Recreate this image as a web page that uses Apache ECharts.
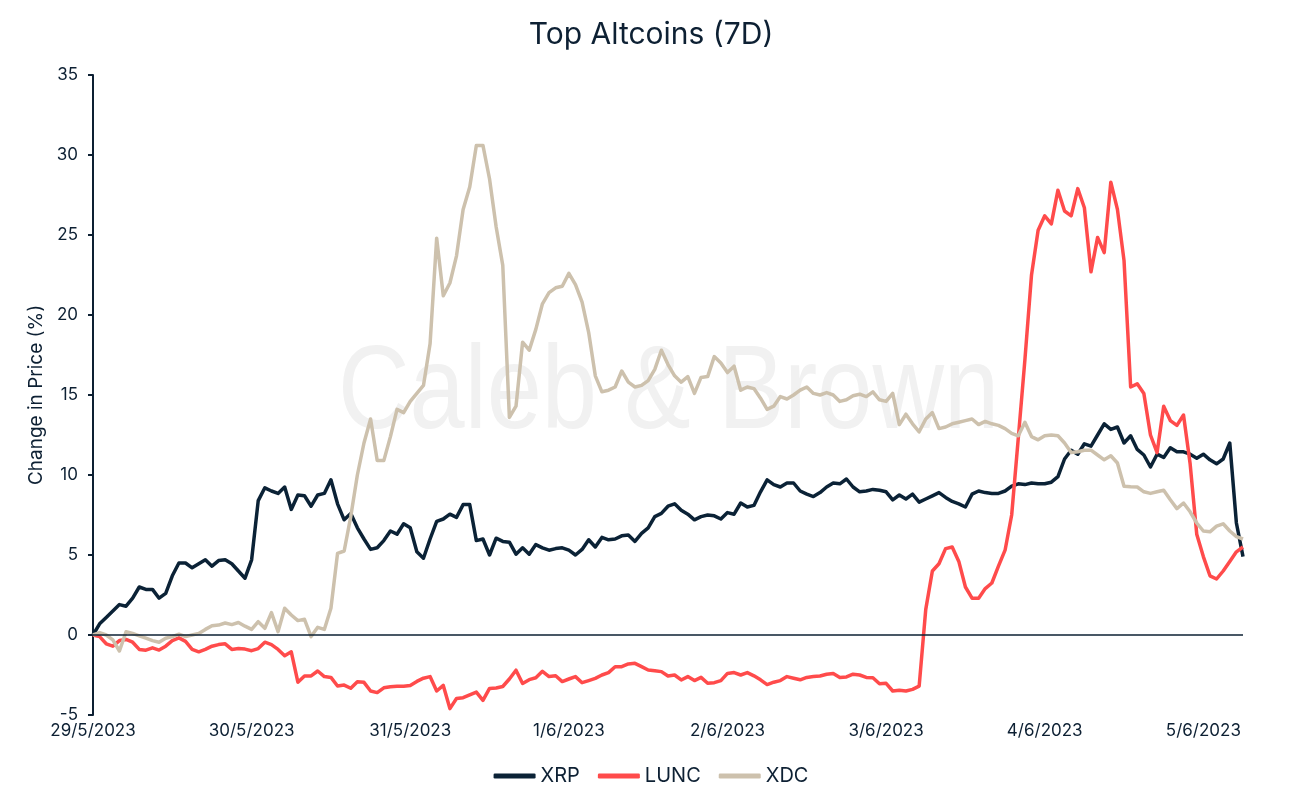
<!DOCTYPE html>
<html>
<head>
<meta charset="utf-8">
<script src="https://cdn.jsdelivr.net/npm/echarts@6/dist/echarts.min.js"></script>
<style>
  html, body { margin: 0; padding: 0; background: #ffffff; }
  #chart { width: 1302px; height: 802px; }
</style>
</head>
<body>
<div id="chart"></div>
<script>
// Day tick labels (one every 24 hourly points)
const dayLabels = ['29/5/2023', '30/5/2023', '31/5/2023', '1/6/2023', '2/6/2023', '3/6/2023', '4/6/2023', '5/6/2023'];
const yTicks = [-5, 0, 5, 10, 15, 20, 25, 30, 35];
const seriesNames = ['XRP', 'LUNC', 'XDC'];

// Hourly % change
const xrp = [
  0, 0.7, 1.1, 1.5, 1.9, 1.8, 2.3, 3.0, 2.85, 2.85, 2.3, 2.6, 3.7, 4.5, 4.5, 4.2, 4.45, 4.7, 4.3, 4.65, 4.7, 4.45, 4.0, 3.55, 4.7,
  8.4, 9.2, 9.0, 8.85, 9.25, 7.85, 8.75, 8.7, 8.05, 8.75, 8.85, 9.7, 8.2, 7.2, 7.6, 6.7, 6.0, 5.35, 5.45, 5.9, 6.5, 6.3, 6.95, 6.7, 5.2, 4.8,
  6.0, 7.1, 7.25, 7.55, 7.35, 8.15, 8.15, 5.9, 6.0, 5.0, 6.05, 5.85, 5.8, 5.05, 5.45, 5.05, 5.65, 5.45, 5.3, 5.4, 5.45, 5.3, 5.0,
  5.35, 5.95, 5.5, 6.1, 5.95, 6.0, 6.2, 6.25, 5.85, 6.35, 6.7, 7.4, 7.6, 8.05, 8.2, 7.8, 7.55, 7.2, 7.4, 7.5, 7.45, 7.25, 7.65,
  7.55, 8.25, 8.0, 8.1, 8.95, 9.7, 9.4, 9.25, 9.5, 9.5, 9.0, 8.8, 8.65, 8.9, 9.25, 9.5, 9.45, 9.75, 9.25, 8.95, 9.0, 9.1, 9.05, 8.95, 8.45,
  8.75, 8.5, 8.8, 8.3, 8.5, 8.7, 8.9, 8.6, 8.35, 8.2, 8.0, 8.8, 9.0, 8.9, 8.85, 8.85, 9.0, 9.3, 9.45, 9.4, 9.5, 9.45, 9.45, 9.55,
  9.9, 11.0, 11.55, 11.3, 11.95, 11.8, 12.5, 13.2, 12.85, 13.0, 12.0, 12.45, 11.6, 11.25, 10.5, 11.3, 11.1, 11.7, 11.45, 11.45, 11.3, 11.05, 11.3, 10.95, 10.7, 11.0, 12.0, 7.0, 4.9
];
const lunc = [
  0, -0.1, -0.55, -0.7, -0.35, -0.28, -0.45, -0.9, -0.95, -0.8, -0.94, -0.7, -0.35, -0.18, -0.4, -0.9, -1.05, -0.9, -0.7, -0.6, -0.55, -0.9, -0.85, -0.88, -0.98,
  -0.85, -0.45, -0.6, -0.9, -1.3, -1.05, -2.95, -2.56, -2.56, -2.25, -2.6, -2.65, -3.19, -3.13, -3.33, -2.92, -2.96, -3.5, -3.6, -3.3, -3.23, -3.2, -3.2, -3.15, -2.9,
  -2.7, -2.6, -3.5, -3.15, -4.6, -3.97, -3.92, -3.74, -3.57, -4.09, -3.34, -3.31, -3.22, -2.75, -2.2, -3.03, -2.79, -2.67, -2.27, -2.6, -2.55, -2.91, -2.75,
  -2.6, -2.98, -2.85, -2.71, -2.5, -2.35, -1.98, -1.98, -1.81, -1.77, -1.98, -2.19, -2.23, -2.29, -2.56, -2.5, -2.81, -2.6, -2.85, -2.65, -3.02, -2.98, -2.85, -2.4, -2.35,
  -2.5, -2.35, -2.55, -2.8, -3.1, -2.95, -2.85, -2.6, -2.7, -2.8, -2.65, -2.6, -2.56, -2.45, -2.4, -2.65, -2.62, -2.45, -2.5, -2.65, -2.67, -3.05, -3.02, -3.5, -3.45, -3.5, -3.4, -3.2,
  1.6, 4.0, 4.45, 5.4, 5.5, 4.6, 3.0, 2.3, 2.3, 2.9, 3.25, 4.3, 5.3, 7.5, 12.3, 17.2, 22.5, 25.3, 26.2, 25.7,
  27.8, 26.5, 26.2, 27.9, 26.7, 22.7, 24.85, 23.9, 28.3, 26.6, 23.4, 15.5, 15.7, 15.1, 12.5, 11.4, 14.3, 13.4, 13.1, 13.75, 10.7, 6.3, 4.9, 3.7, 3.5, 4.0, 4.6, 5.2, 5.5
];
const xdc = [
  0, 0.15, 0.0, -0.3, -1.0, 0.2, 0.1, -0.05, -0.2, -0.35, -0.45, -0.2, -0.1, 0.05, -0.1, 0.0, 0.1, 0.35, 0.58, 0.62, 0.75, 0.65, 0.78, 0.55, 0.35, 0.83,
  0.42, 1.4, 0.21, 1.67, 1.25, 0.9, 0.98, -0.1, 0.48, 0.35, 1.67, 5.1, 5.25, 7.4, 10.0, 12.0, 13.5, 10.9, 10.9, 12.4, 14.1, 13.9, 14.6, 15.1,
  15.6, 18.2, 24.8, 21.2, 22.0, 23.7, 26.6, 28.0, 30.6, 30.6, 28.5, 25.5, 23.1, 13.6, 14.3, 18.3, 17.8, 19.1, 20.7, 21.4, 21.7, 21.8, 22.6,
  21.9, 20.8, 18.9, 16.2, 15.2, 15.3, 15.5, 16.5, 15.8, 15.5, 15.6, 15.9, 16.6, 17.8, 16.9, 16.2, 15.8, 16.15, 15.1, 16.1, 16.15, 17.4, 17.0, 16.4, 16.8,
  15.3, 15.5, 15.4, 14.8, 14.1, 14.3, 14.9, 14.75, 15.0, 15.3, 15.5, 15.1, 15.0, 15.15, 15.0, 14.6, 14.7, 14.95, 15.05, 14.9, 15.2, 14.7, 14.6, 15.1,
  13.15, 13.8, 13.2, 12.7, 13.5, 13.9, 12.9, 13.0, 13.2, 13.3, 13.4, 13.5, 13.15, 13.35, 13.2, 13.1, 12.9, 12.6, 12.45, 13.3, 12.4, 12.2, 12.45, 12.5,
  12.45, 12.0, 11.4, 11.45, 11.55, 11.55, 11.25, 10.95, 11.2, 10.75, 9.3, 9.27, 9.25, 8.95, 8.85, 8.95, 9.05, 8.45, 7.9, 8.25, 7.7, 7.0, 6.5, 6.45, 6.8, 6.95, 6.5, 6.15, 6.0
];

// Hourly category labels built from the day labels
const categories = xrp.map((_, i) => dayLabels[Math.floor(i / 24)] + ' ' + (i % 24) + ':00');

const ink = '#0d2033';
const colors = ['#0b2236', '#ff4b4b', '#cdc1ad'];
const font = 'Inter';

const chart = echarts.init(document.getElementById('chart'), null, { renderer: 'canvas' });
chart.setOption({
  animation: false,
  backgroundColor: '#ffffff',
  color: colors,
  title: {
    text: 'Top Altcoins (7D)',
    left: 'center',
    top: 15,
    textStyle: { color: ink, fontFamily: font, fontSize: 30, fontWeight: 'normal' }
  },
  graphic: [{
    type: 'text',
    z: -10,
    silent: true,
    left: 338,
    top: 336,
    scaleX: 0.84,
    style: {
      text: 'Caleb & Brown',
      fill: '#f1f1f1',
      font: '118px "Liberation Sans"'
    }
  }],
  legend: {
    data: seriesNames,
    left: 'center',
    top: 761,
    icon: 'roundRect',
    itemWidth: 42,
    itemHeight: 5,
    itemGap: 18,
    textStyle: { color: ink, fontFamily: font, fontSize: 20 }
  },
  grid: { left: 93, right: 59, top: 75, bottom: 87, containLabel: false },
  xAxis: {
    type: 'category',
    data: categories,
    boundaryGap: false,
    axisLine: { show: false, onZero: false },
    axisTick: { show: false },
    splitLine: { show: false },
    axisLabel: {
      interval: (index) => index % 24 === 0,
      formatter: (value, index) => dayLabels[Math.floor(index / 24)],
      color: ink,
      fontFamily: font,
      fontSize: 17,
      margin: 7
    }
  },
  yAxis: {
    type: 'value',
    min: yTicks[0],
    max: yTicks[yTicks.length - 1],
    interval: 5,
    name: 'Change in Price (%)',
    nameLocation: 'middle',
    nameGap: 46,
    nameTextStyle: { color: ink, fontFamily: font, fontSize: 19 },
    axisLine: { show: true, lineStyle: { color: ink, width: 2 } },
    axisTick: { show: true, inside: false, length: 5, lineStyle: { color: ink, width: 2 } },
    splitLine: { show: false },
    axisLabel: { color: ink, fontFamily: font, fontSize: 17, margin: 15 }
  },
  series: [
    {
      name: 'XRP', type: 'line', data: xrp, showSymbol: false, symbol: 'none',
      lineStyle: { width: 3.5, color: colors[0], join: 'round' },
      markLine: {
        silent: true, symbol: 'none', label: { show: false },
        lineStyle: { color: ink, width: 1.6, type: 'solid' },
        data: [{ yAxis: 0 }]
      }
    },
    {
      name: 'LUNC', type: 'line', data: lunc, showSymbol: false, symbol: 'none',
      lineStyle: { width: 3.5, color: colors[1], join: 'round' }
    },
    {
      name: 'XDC', type: 'line', data: xdc, showSymbol: false, symbol: 'none',
      lineStyle: { width: 3.5, color: colors[2], join: 'round' }
    }
  ]
});
</script>
</body>
</html>
